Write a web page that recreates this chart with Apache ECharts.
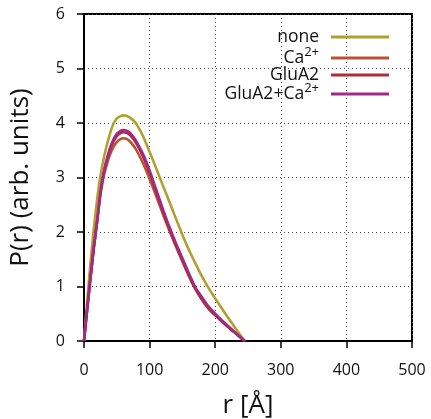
<!DOCTYPE html>
<html><head><meta charset="utf-8">
<script src="https://cdn.jsdelivr.net/npm/echarts@6/dist/echarts.min.js"></script>
<style>html,body{margin:0;padding:0;background:#fff}#c{width:431px;height:419px}</style>
</head><body><div id="c"></div>
<script>
const r        = [0,5,10,15,20,25,30,35,40,45,50,55,60,65,70,75,80,90,100,110,120,130,140,150,160,170,180,190,200,210,220,230,240,245];
const none     = [0,0.75,1.45,2.07,2.60,3.03,3.35,3.60,3.82,3.99,4.08,4.12,4.14,4.13,4.10,4.05,3.98,3.76,3.47,3.17,2.86,2.56,2.25,1.95,1.67,1.42,1.18,0.97,0.78,0.60,0.42,0.25,0.08,0];
const ca       = [0,0.60,1.17,1.71,2.18,2.68,3.02,3.25,3.43,3.56,3.65,3.70,3.72,3.71,3.66,3.59,3.50,3.26,2.97,2.66,2.34,2.03,1.74,1.46,1.19,0.95,0.75,0.59,0.47,0.36,0.26,0.16,0.05,0];
const glua2    = [0,0.60,1.17,1.72,2.20,2.72,3.08,3.32,3.52,3.66,3.76,3.81,3.83,3.82,3.78,3.71,3.62,3.38,3.08,2.74,2.39,2.06,1.76,1.48,1.20,0.95,0.76,0.60,0.48,0.36,0.25,0.15,0.05,0];
const glua2ca  = [0,0.60,1.17,1.72,2.20,2.73,3.10,3.35,3.55,3.70,3.80,3.85,3.87,3.86,3.82,3.75,3.66,3.43,3.13,2.78,2.43,2.10,1.80,1.52,1.24,0.98,0.80,0.63,0.50,0.38,0.27,0.16,0.05,0];
const seriesNames = ['none','Ca2+','GluA2','GluA2+Ca2+'];
const legendLabels = ['{b|none}{g|}','{b|Ca}{sup|2+}{g|}','{b|GluA2}{g|}','{b|GluA2+Ca}{sup|2+}{g|}'];
const colors = ['#b0a030','#b85430','#b02a3c','#a02a84'];

const font = 'Open Sans';
const vals = [none, ca, glua2, glua2ca];
const series = vals.map((v,i)=>({
  name: seriesNames[i], type:'line', data: r.map((x,j)=>[x,v[j]]),
  showSymbol:false, smooth:0.2, lineStyle:{width:2.6,color:colors[i]}, itemStyle:{color:colors[i]},
  z: 2+i
}));
const legendTops = [28,46,66,82];
const legends = seriesNames.map((n,i)=>({
  data:[n], orient:'vertical', right:42, top:legendTops[i], align:'right', padding:0,
  itemWidth:58, itemHeight:3, icon:'rect', itemGap:0,
  textStyle:{fontFamily:font, fontSize:17.5, color:'#111',
    rich:{ b:{fontFamily:font,fontSize:17.5,color:'#111'},
           sup:{fontFamily:font,fontSize:13,color:'#111',verticalAlign:'top',padding:[0,0,11,0]},
           g:{width:7} }},
  formatter: function(name){ return legendLabels[seriesNames.indexOf(name)]; }
}));
const chart = echarts.init(document.getElementById('c'), null, {renderer:'canvas'});
chart.setOption({
  animation:false,
  backgroundColor:'#fff',
  grid:{left:84,right:19,top:14,bottom:78,show:true,borderColor:'#000',borderWidth:2,backgroundColor:'transparent',containLabel:false,outerBoundsMode:'none'},
  legend: legends,
  xAxis:{type:'value',min:0,max:500,interval:100,
    name:'r [Å]',nameLocation:'middle',nameGap:52,nameTextStyle:{fontFamily:font,fontSize:26,color:'#111'},
    axisLine:{show:true,lineStyle:{color:'#000',width:2}},
    axisTick:{show:true,length:7,lineStyle:{color:'#000',width:1.5}},
    axisLabel:{fontFamily:font,fontSize:16,color:'#111',margin:21},
    splitLine:{show:true,lineStyle:{color:'#444',type:[1,3],width:1}}},
  yAxis:{type:'value',min:0,max:6,interval:1,
    name:'P(r) (arb. units)',nameLocation:'middle',nameGap:50,nameTextStyle:{fontFamily:font,fontSize:26,color:'#111'},
    axisLine:{show:true,lineStyle:{color:'#000',width:2}},
    axisTick:{show:true,length:7,lineStyle:{color:'#000',width:1.5}},
    axisLabel:{fontFamily:font,fontSize:16,color:'#111',margin:19},
    splitLine:{show:true,lineStyle:{color:'#444',type:[1,3],width:1}}},
  series: series
});
</script></body></html>
